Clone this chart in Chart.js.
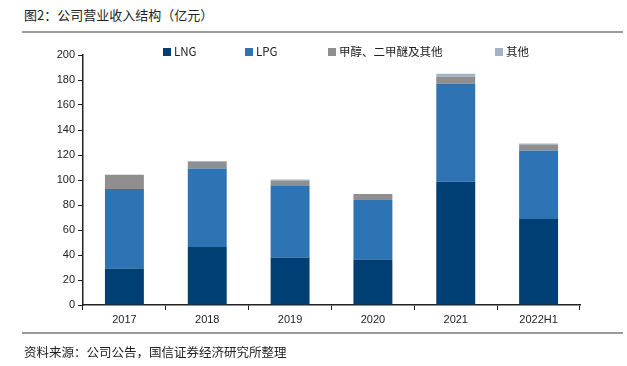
<!DOCTYPE html>
<html>
<head>
<meta charset="utf-8">
<script src="https://cdn.jsdelivr.net/npm/chart.js@4/dist/chart.umd.min.js"></script>
<style>
  body { margin: 0; background: #fff; width: 627px; height: 366px; overflow: hidden; position: relative;
         font-family: "Noto Sans CJK SC", "Liberation Sans", sans-serif; }
  #title { position: absolute; left: 24px; top: 5px; font-size: 13px; color: #222; }
  .rule { position: absolute; left: 22px; height: 0; border-top: 2px solid #9a9a9a; }
  #source { position: absolute; left: 24px; top: 342px; font-size: 12.5px; color: #222; }
  #wrap { position: absolute; left: 0; top: 0; width: 627px; height: 366px; }
  .leg { position: absolute; top: 43px; font-size: 11.5px; color: #222; white-space: nowrap; }
  .leg i { display: inline-block; width: 8px; height: 8px; margin-right: 3px; vertical-align: -0px; }
</style>
</head>
<body>
<div id="title">图2：公司营业收入结构（亿元）</div>
<div class="rule" style="top:31px;width:601px"></div>
<div id="wrap"><canvas id="revChart" width="627" height="366"></canvas></div>
<div class="rule" style="top:332px;width:601px"></div>
<div id="source">资料来源：公司公告，国信证券经济研究所整理</div>
<div id="legend"></div>
<script>
// 年份
var years = ['2017', '2018', '2019', '2020', '2021', '2022H1'];
// 各业务收入（亿元）
var lngData = [29.3, 46.4, 38.1, 36.5, 98.7, 68.8];
var lpgData = [63.5, 62.9, 57.1, 47.5, 78.3, 54.9];
var methanolData = [11.5, 5.4, 4.0, 4.8, 5.6, 4.8];
var otherData = [0, 0.5, 1.3, 0, 2.4, 0.8];
var yTicks = [0, 20, 40, 60, 80, 100, 120, 140, 160, 180, 200];

var seriesNames = ['LNG', 'LPG', '甲醇、二甲醚及其他', '其他'];
var seriesColors = ['#003f73', '#2e74b5', '#8f8f8f', '#a3b3c6'];
var legendX = [163, 245, 328, 495];

// 图例
var legendBox = document.getElementById('legend');
seriesNames.forEach(function(name, i) {
    var d = document.createElement('div');
    d.className = 'leg';
    d.style.left = legendX[i] + 'px';
    d.innerHTML = '<i style="background:' + seriesColors[i] + '"></i>' + name;
    legendBox.appendChild(d);
});

var allData = [lngData, lpgData, methanolData, otherData];
var ctx = document.getElementById('revChart').getContext('2d');
var revChart = new Chart(ctx, {
    type: 'bar',
    data: {
        labels: years,
        datasets: allData.map(function(arr, i) {
            return {
                label: seriesNames[i],
                data: arr,
                backgroundColor: seriesColors[i],
                borderWidth: 0,
                categoryPercentage: 1,
                barPercentage: 0.47
            };
        })
    },
    options: {
        responsive: false,
        animation: false,
        layout: { padding: { left: 0, right: 47, top: 55, bottom: 0 } },
        plugins: {
            legend: { display: false },
            tooltip: { enabled: false }
        },
        scales: {
            x: {
                stacked: true,
                afterFit: function(scale) { scale.height = 61; },
                grid: { offset: true, drawOnChartArea: false, drawTicks: true, tickLength: 5, color: '#222', lineWidth: 1 },
                border: { color: '#222', width: 1.5 },
                ticks: { color: '#222', padding: 3, font: { family: 'Liberation Sans', size: 11 } }
            },
            y: {
                stacked: true,
                min: 0,
                max: 200,
                afterFit: function(scale) { scale.width = 83; },
                afterBuildTicks: function(scale) { scale.ticks = yTicks.map(function(v) { return { value: v }; }); },
                grid: { drawOnChartArea: false, drawTicks: true, tickLength: 5, color: '#222', lineWidth: 1 },
                border: { color: '#222', width: 1.5 },
                ticks: { color: '#222', padding: 3, font: { family: 'Liberation Sans', size: 11 } }
            }
        }
    }
});
</script>
</body>
</html>
